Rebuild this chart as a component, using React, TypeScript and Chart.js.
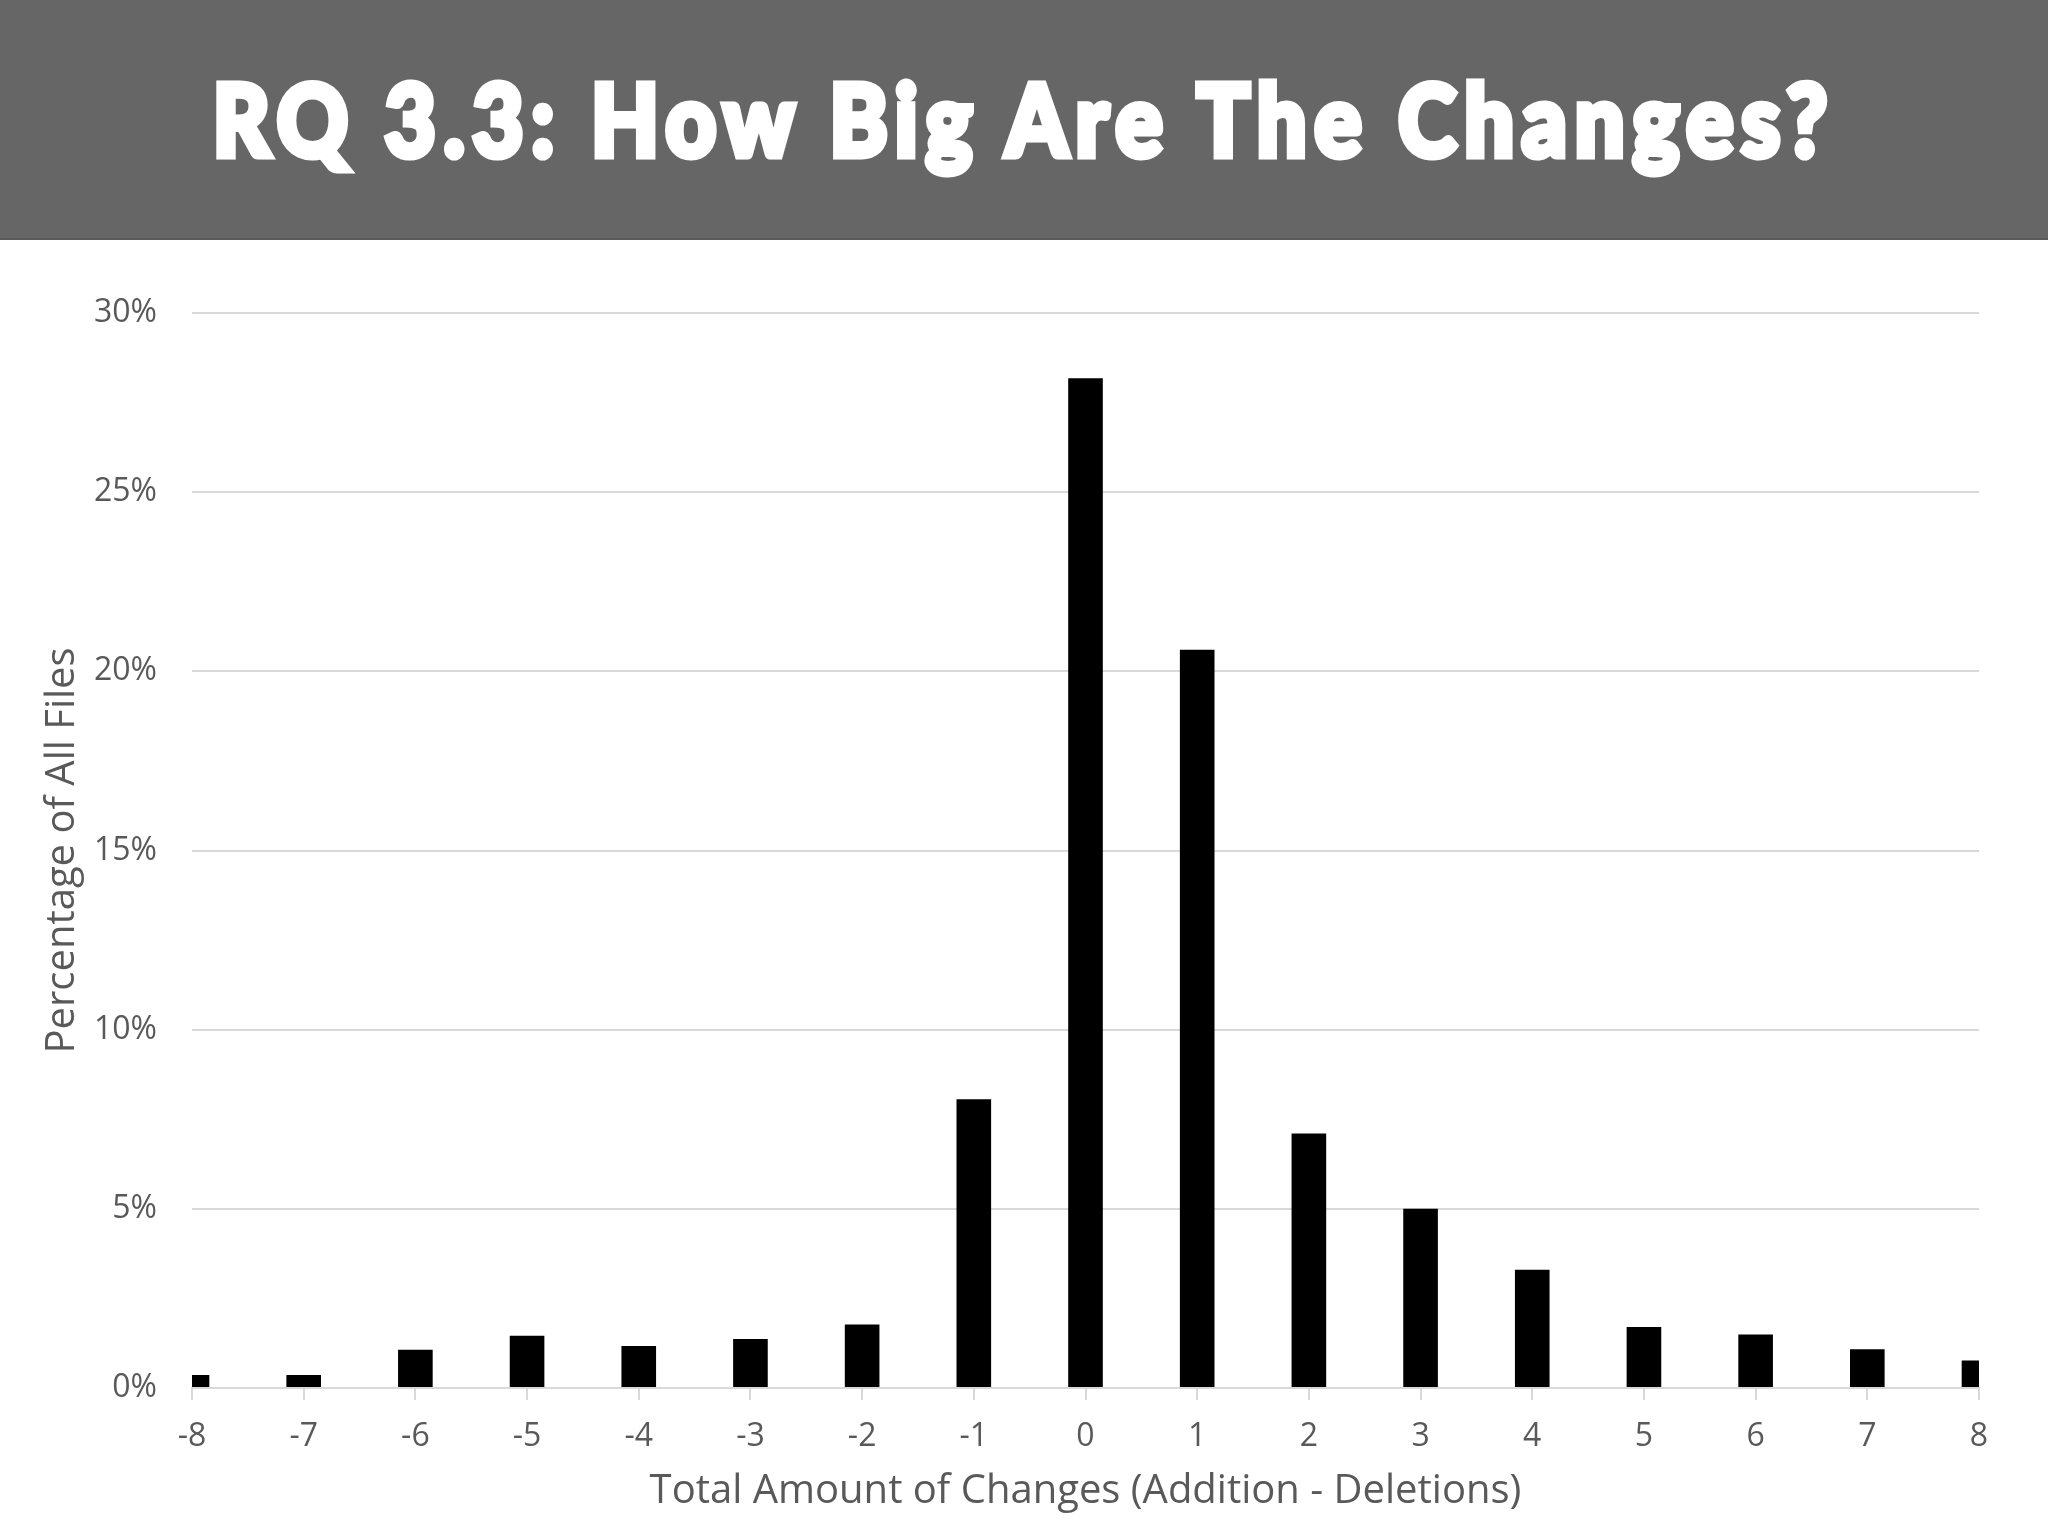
import React, { useEffect, useRef } from "react";
import { Chart, registerables } from "chart.js";

Chart.register(...registerables);

const categories = ["-8", "-7", "-6", "-5", "-4", "-3", "-2", "-1", "0", "1", "2", "3", "4", "5", "6", "7", "8"];
const percentages = [0.36, 0.36, 1.07, 1.46, 1.17, 1.37, 1.77, 8.06, 28.18, 20.6, 7.1, 5.0, 3.3, 1.7, 1.49, 1.08, 0.77];
const yTickValues = [0, 5, 10, 15, 20, 25, 30];
const headline = "RQ 3.3: How Big Are The Changes?";
const xAxisTitle = "Total Amount of Changes (Addition - Deletions)";
const yAxisTitle = "Percentage of All Files";

const TEXT_GRAY = "#595959";
const GRID_GRAY = "#d9d9d9";
const FONT = "Open Sans";

export default function App() {
  const canvasRef = useRef<HTMLCanvasElement>(null);
  const titleRef = useRef<HTMLSpanElement>(null);

  useEffect(() => {
    const span = titleRef.current;
    if (span) {
      const w = span.offsetWidth;
      if (w > 0) span.style.transform = `translateX(-50%) scaleX(${1622 / w})`;
    }
    const canvas = canvasRef.current;
    if (!canvas) return;
    const chart = new Chart(canvas, {
      type: "bar",
      data: {
        labels: categories,
        datasets: [
          {
            data: percentages,
            backgroundColor: "#000000",
            borderWidth: 0,
            barPercentage: 0.31,
            categoryPercentage: 1,
            clip: 0,
          } as any,
        ],
      },
      options: {
        animation: false,
        responsive: true,
        maintainAspectRatio: false,
        layout: { padding: { left: 0, right: 69, top: 73, bottom: 0 } },
        plugins: { legend: { display: false }, tooltip: { enabled: false } },
        scales: {
          x: {
            offset: false,
            grid: {
              display: true,
              offset: false,
              drawOnChartArea: false,
              drawTicks: true,
              tickLength: 12,
              color: GRID_GRAY,
              lineWidth: 2,
            },
            border: { display: true, color: GRID_GRAY, width: 2 },
            ticks: {
              color: TEXT_GRAY,
              font: { family: FONT, size: 32 },
              padding: 18,
              maxRotation: 0,
              autoSkip: false,
            },
            title: {
              display: true,
              text: xAxisTitle,
              color: TEXT_GRAY,
              font: { family: FONT, size: 40 },
              padding: { top: 0, bottom: 19 },
            },
            afterFit: (s: any) => {
              s.height = 147;
            },
          },
          y: {
            min: 0,
            max: 30,
            afterBuildTicks: (s: any) => {
              s.ticks = yTickValues.map((v) => ({ value: v }));
            },
            ticks: {
              callback: (v: any) => `${v}%`,
              color: TEXT_GRAY,
              font: { family: FONT, size: 32 },
              padding: 35,
            },
            grid: { color: GRID_GRAY, lineWidth: 2, drawTicks: false },
            border: { display: false },
            title: {
              display: true,
              text: yAxisTitle,
              color: TEXT_GRAY,
              font: { family: FONT, size: 40 },
              padding: { top: 39, bottom: 0 },
            },
            afterFit: (s: any) => {
              s.width = 192;
            },
          },
        },
      } as any,
    });
    return () => chart.destroy();
  }, []);

  return (
    <div
      style={{
        position: "absolute",
        left: 0,
        top: 0,
        width: 2048,
        height: 1535,
        background: "#ffffff",
        overflow: "hidden",
      }}
    >
      <div
        style={{
          position: "absolute",
          left: 0,
          top: 0,
          width: 2048,
          height: 240,
          background: "#666666",
          borderBottom: "2px solid #5a5a5a",
          boxSizing: "border-box",
        }}
      >
        <span
          ref={titleRef}
          style={{
            position: "absolute",
            left: 1024,
            top: 67,
            display: "inline-block",
            fontFamily: "Lato, 'DejaVu Sans'",
            fontWeight: 900,
            fontSize: 100,
            lineHeight: 1,
            letterSpacing: 9,
            color: "#ffffff",
            whiteSpace: "nowrap",
            transformOrigin: "center",
            WebkitTextStroke: "7px #ffffff",
          }}
        >
          {headline}
        </span>
      </div>
      <div style={{ position: "absolute", left: 0, top: 240, width: 2048, height: 1295 }}>
        <canvas ref={canvasRef} />
      </div>
    </div>
  );
}
